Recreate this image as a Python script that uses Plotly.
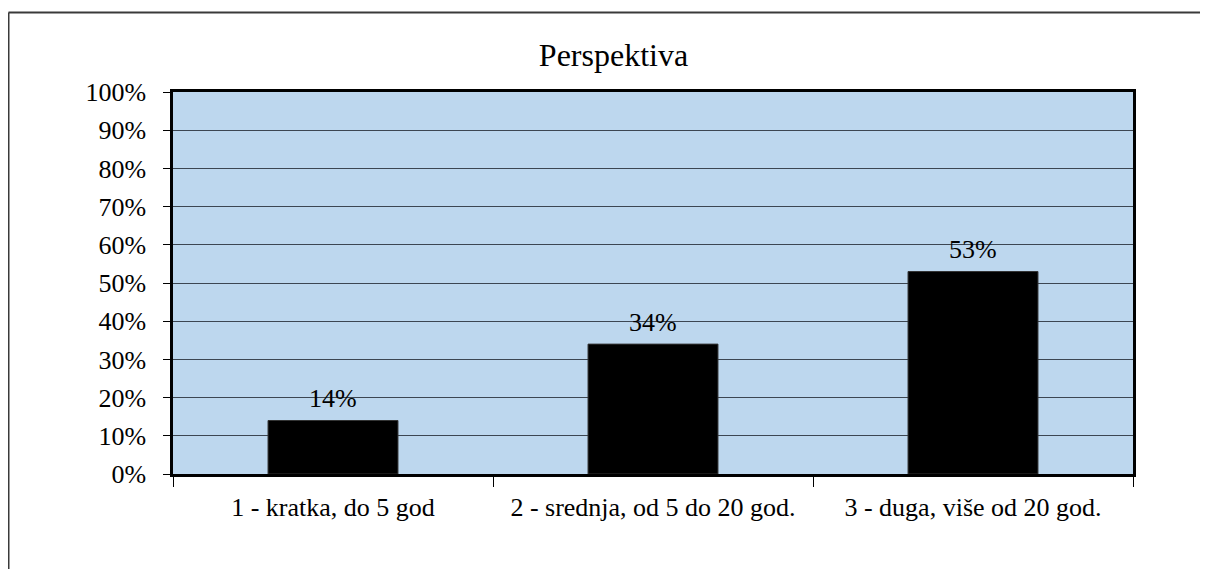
import plotly.graph_objects as go

categories = ["1 - kratka, do 5 god", "2 - srednja, od 5 do 20 god.", "3 - duga, više od 20 god."]
values = [14, 34, 53]
value_labels = ["14%", "34%", "53%"]
y_ticks = list(range(0, 101, 10))
y_tick_labels = [f"{v}%" for v in y_ticks]

FONT = "Liberation Serif, Times New Roman, serif"
FS = 26

fig = go.Figure()
fig.add_trace(go.Bar(
    x=categories, y=values,
    marker=dict(color="#000000", line=dict(color="#333333", width=1)),
    width=0.406,
    hoverinfo="skip",
))

for c, v, t in zip(categories, values, value_labels):
    fig.add_annotation(x=c, y=v, text=t, showarrow=False, yshift=22,
                       font=dict(family=FONT, size=FS, color="#000"))

# page body has an 8px margin; figure is sized to compensate
W, H = 1200, 561
L, R, T, B = 165, 75, 84, 95
pw, ph = W - L - R, H - T - B
fx = (0.5 - L) / pw
fy = 1 + (T - 4.5) / ph

fig.add_shape(type="line", xref="paper", yref="paper", x0=fx, x1=fx, y0=fy, y1=-0.4,
              line=dict(color="#3a3a3a", width=2))
fig.add_shape(type="line", xref="paper", yref="paper", x0=fx, x1=1.2, y0=fy, y1=fy,
              line=dict(color="#3a3a3a", width=2))

fig.update_layout(
    width=W, height=H,
    margin=dict(l=L, r=R, t=T, b=B, pad=0),
    paper_bgcolor="white",
    plot_bgcolor="#BDD7EE",
    showlegend=False,
    font=dict(family=FONT, size=FS, color="#000"),
    title=dict(text="Perspektiva", x=605.5 / W, xanchor="center", y=1 - 47 / H, yanchor="middle",
               yref="container", font=dict(family=FONT, size=32, color="#000")),
    xaxis=dict(
        type="category", tickson="boundaries", ticks="outside", ticklen=10, tickcolor="#000",
        tickwidth=1, showline=True, linecolor="#000", linewidth=2.5, mirror=True,
        showgrid=False, ticklabelstandoff=8, range=[-0.5, 2.5],
        tickfont=dict(family=FONT, size=FS, color="#000"),
    ),
    yaxis=dict(
        range=[0, 100], tickvals=y_ticks, ticktext=y_tick_labels, ticks="outside",
        ticklen=7, tickcolor="#000", tickwidth=1, showline=True, linecolor="#000",
        linewidth=2.5, mirror=True, showgrid=True, gridcolor="#3c4652", gridwidth=1,
        zeroline=False, ticklabelstandoff=12,
        tickfont=dict(family=FONT, size=FS, color="#000"),
    ),
)

fig.write_html("out.html")
